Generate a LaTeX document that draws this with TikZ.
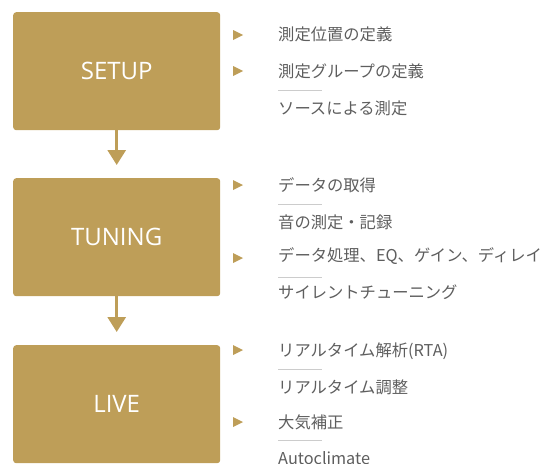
\documentclass[tikz,border=0pt]{standalone}
\usepackage{fontspec}
\setmainfont{Open Sans}
\newfontfamily\jpfont{Noto Sans CJK JP}
\usetikzlibrary{arrows.meta}
\definecolor{gold}{HTML}{BE9E58}
\definecolor{txt}{HTML}{5E5E5E}
\definecolor{sep}{HTML}{CCCCCC}
\begin{document}
\begin{tikzpicture}[x=1pt,y=-1pt,
  stage/.style={fill=gold,rounded corners=3pt,minimum width=207pt,minimum height=118pt,inner sep=0pt,text=white,font=\fontsize{24}{26}\selectfont,anchor=north west},
  item/.style={anchor=base west,inner sep=0pt,text=txt,font=\jpfont\fontsize{16.3}{18}\selectfont},
  sepline/.style={draw=sep,line width=0.8pt},
  flow/.style={draw=gold,line width=3pt,-{Triangle[length=15pt,width=18pt]},shorten >=13pt}]
\useasboundingbox (0,0) rectangle (556,463);
\node[stage] (setup) at (13,12) {SETUP};
\node[stage] (tuning) at (13,178) {TUNING};
\node[stage] (live) at (13,345) {LIVE};
\draw[flow] (setup.south) -- (tuning.north);
\draw[flow] (tuning.south) -- (live.north);
% bullets
\foreach \y in {35,71,185,258,350,422}
  \fill[gold] (233,\y-5) -- (243,\y) -- (233,\y+5) -- cycle;
% texts
\node[item] (s1) at (278,40) {測定位置の定義};
\node[item] (s2) at (278,77) {測定グループの定義};
\node[item] (s3) at (278,114) {ソースによる測定};
\node[item] (t1) at (278,191) {データの取得};
\node[item] (t2) at (278,228) {音の測定・記録};
\node[item] (t3) at (278,261) {データ処理、EQ、ゲイン、ディレイ};
\node[item] (t4) at (278,298) {サイレントチューニング};
\node[item] (l1) at (278,356) {リアルタイム解析(RTA)};
\node[item] (l2) at (278,393) {リアルタイム調整};
\node[item] (l3) at (278,428) {大気補正};
\node[item] (l4) at (278,464) {Autoclimate};
% separators
\foreach \y in {90,204,277,369,440}
  \draw[sepline] (278,\y) -- (322,\y);
\end{tikzpicture}
\end{document}
